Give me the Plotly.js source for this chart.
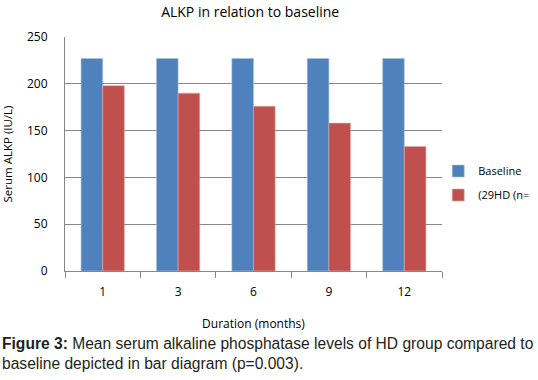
<!DOCTYPE html>
<html><head><meta charset="utf-8">
<script src="https://cdn.plot.ly/plotly-3.0.1.min.js"></script>
<style>html,body{margin:0;padding:0;background:#fff}#chart{width:538px;height:380px}</style>
</head><body><div id="chart"></div>
<script>
const categories = ["1", "3", "6", "9", "12"];
const baselineValues = [227, 227, 227, 227, 227];
const hdValues = [198, 190, 176, 158, 133];
const seriesNames = ["Baseline", "(29HD (n="];
const yTicks = [0, 50, 100, 150, 200, 250];

const F = "Open Sans, sans-serif";
const data = [
  {type: "bar", x: categories, y: baselineValues, name: seriesNames[0], legendgroup: "a",
   marker: {color: "#4F81BD", line: {color: "#A7BFDE", width: 0.6}}},
  {type: "bar", x: categories, y: hdValues, name: seriesNames[1], legendgroup: "b",
   marker: {color: "#C0504D", line: {color: "#E0A9A7", width: 0.6}}}
];
const layout = {
  width: 538, height: 380,
  margin: {l: 65, r: 96, t: 37, b: 109, autoexpand: false},
  paper_bgcolor: "#fff", plot_bgcolor: "#fff",
  font: {family: F, size: 12, color: "#000"},
  title: {text: "ALKP in relation to baseline", font: {size: 14, family: F}, x: 0.465, xanchor: "center", y: 0.968, yanchor: "middle"},
  barmode: "group", bargap: 0.426, bargroupgap: 0,
  showlegend: true,
  legend: {x: 0.99, xanchor: "left", y: 0.376, yanchor: "middle", traceorder: "grouped", tracegroupgap: 5,
           font: {size: 11, family: F}, itemwidth: 30, bgcolor: "rgba(0,0,0,0)"},
  xaxis: {type: "category", showline: true, linecolor: "#878787", linewidth: 1,
          ticks: "outside", tickson: "boundaries", ticklen: 6, tickcolor: "#878787",
          showgrid: false, ticklabelstandoff: 10,
          title: {text: "Duration (months)", font: {size: 12, family: F}, standoff: 20}},
  yaxis: {range: [0, 250], tickvals: yTicks, showline: true, linecolor: "#878787", linewidth: 1,
          showgrid: true, gridcolor: "#878787", gridwidth: 1, zeroline: false,
          ticks: "", ticklabelstandoff: 14,
          title: {text: "Serum ALKP (IU/L)", font: {size: 11.5, family: F}, standoff: 12}},
  annotations: [
    {xref: "paper", yref: "paper", x: -65/377, y: -0.267, xanchor: "left", yanchor: "top", align: "left",
     showarrow: false, font: {family: "Liberation Sans, Arial, sans-serif", size: 15.6, color: "#231f20"},
     text: "<b>Figure 3:</b> Mean serum alkaline phosphatase levels of HD group compared to<br>baseline depicted in bar diagram (p=0.003)."}
  ]
};
Plotly.newPlot("chart", data, layout, {displayModeBar: false, staticPlot: true});
</script></body></html>
